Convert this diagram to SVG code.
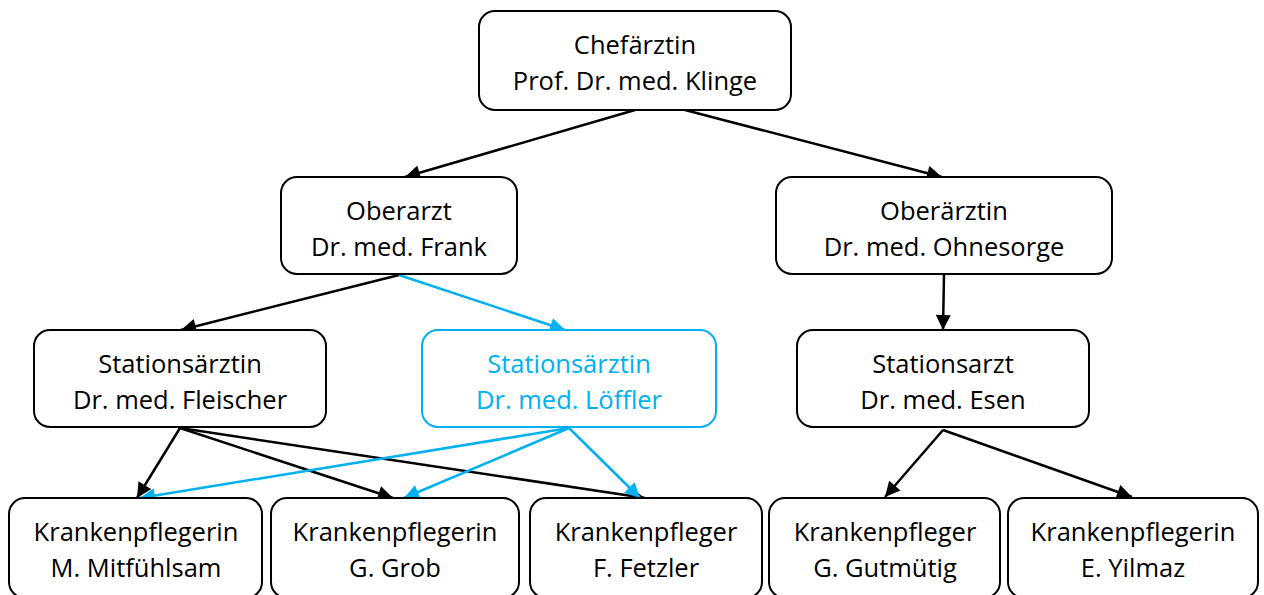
<svg xmlns="http://www.w3.org/2000/svg" width="1264" height="595" viewBox="0 0 1264 595">
<defs>
<style>
.box{fill:#fff;stroke:#000;stroke-width:2}
.blue .box{stroke:#00B0F0}
text{font-family:"Open Sans","Noto Sans",sans-serif;font-size:25.5px;text-anchor:middle;fill:#000}
.blue text{fill:#00B0F0}
.c{stroke:#000;stroke-width:2.5;fill:none;marker-end:url(#ab)}
.cb{stroke:#00B0F0;stroke-width:2.5;fill:none;marker-end:url(#abb)}
</style>
<marker id="ab" viewBox="0 0 10 10" refX="10" refY="5" markerWidth="6.5" markerHeight="6" markerUnits="strokeWidth" orient="auto"><path d="M0,0L10,5L0,10z" fill="#000"/></marker>
<marker id="abb" viewBox="0 0 10 10" refX="10" refY="5" markerWidth="6.5" markerHeight="6" markerUnits="strokeWidth" orient="auto"><path d="M0,0L10,5L0,10z" fill="#00B0F0"/></marker>
</defs>
<rect width="1264" height="595" fill="#fff"/>
<g id="connectors">
<line class="c" x1="635" y1="110" x2="405" y2="177"/>
<line class="c" x1="685" y1="110" x2="942" y2="177"/>
<line class="c" x1="399" y1="275" x2="181" y2="330"/>
<line class="cb" x1="399" y1="275" x2="565" y2="330"/>
<line class="c" x1="944" y1="275" x2="943" y2="330"/>
<line class="c" x1="180" y1="428" x2="137" y2="498"/>
<line class="c" x1="180" y1="428" x2="393" y2="498"/>
<line class="c" x1="180" y1="428" x2="645" y2="498"/>
<line class="cb" x1="569" y1="428" x2="140" y2="498"/>
<line class="cb" x1="569" y1="428" x2="404" y2="498"/>
<line class="cb" x1="569" y1="428" x2="640" y2="498"/>
<line class="c" x1="943" y1="430" x2="885" y2="497"/>
<line class="c" x1="943" y1="430" x2="1132" y2="497"/>
</g>
<g id="chef"><rect class="box" x="479" y="11" width="312" height="99" rx="16"/><text x="635" y="54">Chefärztin</text><text x="635" y="90">Prof. Dr. med. Klinge</text></g>
<g id="oberarzt"><rect class="box" x="281" y="177" width="236" height="97" rx="16"/><text x="399" y="220">Oberarzt</text><text x="399" y="256">Dr. med. Frank</text></g>
<g id="oberaerztin"><rect class="box" x="776" y="177" width="336" height="97" rx="16"/><text x="944" y="220">Oberärztin</text><text x="944" y="256">Dr. med. Ohnesorge</text></g>
<g id="fleischer"><rect class="box" x="34" y="330" width="292" height="97" rx="16"/><text x="180" y="373">Stationsärztin</text><text x="180" y="409">Dr. med. Fleischer</text></g>
<g id="loeffler" class="blue"><rect class="box" x="422" y="330" width="294" height="97" rx="16"/><text x="569" y="373">Stationsärztin</text><text x="569" y="409">Dr. med. Löffler</text></g>
<g id="esen"><rect class="box" x="797" y="330" width="292" height="97" rx="16"/><text x="943" y="373">Stationsarzt</text><text x="943" y="409">Dr. med. Esen</text></g>
<g id="mitfuehlsam"><rect class="box" x="9" y="498" width="253" height="100" rx="16"/><text x="136" y="541">Krankenpflegerin</text><text x="136" y="577">M. Mitfühlsam</text></g>
<g id="grob"><rect class="box" x="271" y="498" width="248" height="100" rx="16"/><text x="395" y="541">Krankenpflegerin</text><text x="395" y="577">G. Grob</text></g>
<g id="fetzler"><rect class="box" x="530" y="498" width="232" height="100" rx="16"/><text x="646" y="541">Krankenpfleger</text><text x="646" y="577">F. Fetzler</text></g>
<g id="gutmuetig"><rect class="box" x="769" y="498" width="231" height="100" rx="16"/><text x="885" y="541">Krankenpfleger</text><text x="885" y="577">G. Gutmütig</text></g>
<g id="yilmaz"><rect class="box" x="1008" y="498" width="250" height="100" rx="16"/><text x="1133" y="541">Krankenpflegerin</text><text x="1133" y="577">E. Yilmaz</text></g>
</svg>
